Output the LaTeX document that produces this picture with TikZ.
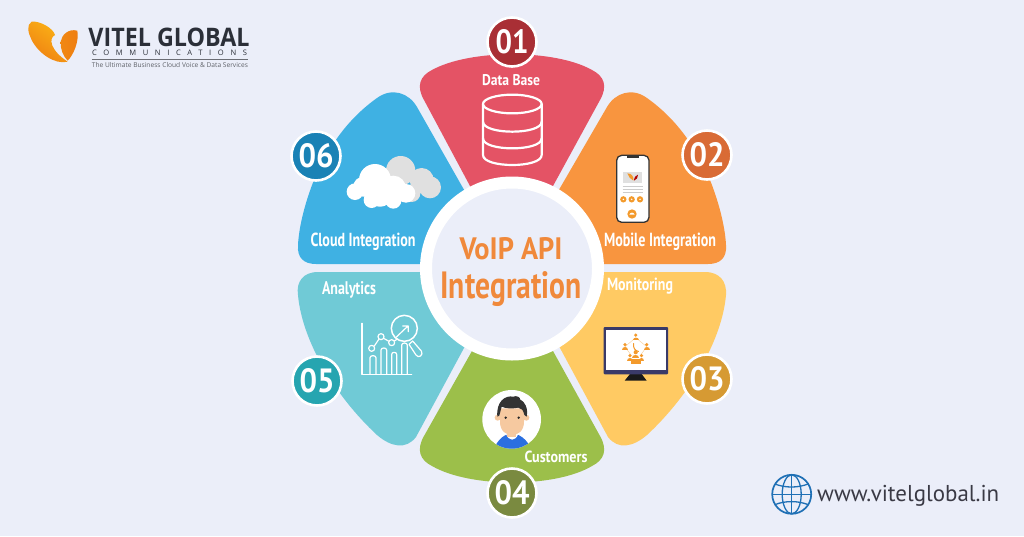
\documentclass[tikz,border=0pt]{standalone}
\usepackage{fontspec}
\usepackage{graphicx}
\setmainfont{PT Sans}
\newfontfamily\logofont{Open Sans}
\definecolor{bgc}{HTML}{EBEEF9}
\definecolor{redp}{HTML}{E45365}
\definecolor{orap}{HTML}{F8953F}
\definecolor{yelp}{HTML}{FFCA63}
\definecolor{grep}{HTML}{9CBF4A}
\definecolor{teap}{HTML}{70CAD6}
\definecolor{blup}{HTML}{3FB1E3}
\definecolor{titlec}{HTML}{F0893B}
\definecolor{logoc}{HTML}{2B2F38}
\definecolor{globec}{HTML}{1F70B5}
\definecolor{urlc}{HTML}{3A3A45}
\definecolor{monc}{HTML}{3A3A68}
\definecolor{iconc}{HTML}{F39A2C}
\definecolor{skinc}{HTML}{F6C9A0}
\definecolor{shirtc}{HTML}{2B6FE0}
\definecolor{logoa}{HTML}{FBB416}
\definecolor{logob}{HTML}{EE7D12}
\newcommand\fitw[2]{\resizebox{#1pt}{!}{#2}}
\newcommand\fitb[3]{\resizebox{#1pt}{#2pt}{#3}}
\newcommand\pplicon[3]{\begin{scope}[shift={(#1,#2)},scale=#3]
 \fill[iconc] (0,-2.8) circle (2.1);
 \fill[iconc] (-3.4,3.2) .. controls (-3.4,-1) and (3.4,-1) .. (3.4,3.2) -- cycle;
\end{scope}}
\tikzset{
 numc/.style={circle,draw=white,line width=2.6pt,minimum size=49pt,inner sep=0pt,text=white,font=\bfseries},
 lab/.style={text=white,inner sep=0pt,font=\bfseries},
 ttl/.style={text=titlec,inner sep=0pt,font=\bfseries},
 wline/.style={draw=white,line width=1.5pt,line cap=round,line join=round}
}
\begin{document}
\begin{tikzpicture}[x=1pt,y=-1pt]
\fill[bgc] (0,0) rectangle (1024,536);
\useasboundingbox (0,0) rectangle (1024,536);
% petals
\fill[redp] (470,186) -- (424,100) .. controls (416,86) and (420,76) .. (432,70) .. controls (470,49) and (555,49) .. (592,70) .. controls (604,76) and (608,86) .. (600,100) -- (553,186) -- (512,268) -- cycle;
\fill[orap] (560,188) -- (607,107) .. controls (615,93) and (632,87) .. (647,98) .. controls (675,118) and (695,145) .. (710,180) .. controls (718,200) and (725,225) .. (726,245) .. controls (727,258) and (720,264) .. (708,264) -- (600,264) -- (512,268) -- cycle;
\fill[yelp] (603,272) -- (705,272) .. controls (720,272) and (727,282) .. (726,295) .. controls (722,340) and (690,395) .. (647,435) .. controls (633,447) and (618,450) .. (608,437) -- (560,348) -- (512,268) -- cycle;
\fill[grep] (472,351) -- (424,436) .. controls (416,450) and (420,460) .. (432,466) .. controls (470,488) and (555,488) .. (592,466) .. controls (604,460) and (608,450) .. (600,436) -- (553,351) -- (512,268) -- cycle;
\fill[teap] (420,272) -- (318,272) .. controls (303,272) and (296,282) .. (298,295) .. controls (302,340) and (334,395) .. (377,435) .. controls (391,447) and (406,450) .. (416,437) -- (464,348) -- (512,268) -- cycle;
\fill[blup] (463,188) -- (417,107) .. controls (409,93) and (392,87) .. (377,98) .. controls (349,118) and (329,145) .. (314,180) .. controls (306,200) and (299,225) .. (298,245) .. controls (297,258) and (304,264) .. (316,264) -- (424,264) -- (512,268) -- cycle;
% centre
\node[circle,fill=bgc,draw=white,line width=12pt,minimum size=172pt,inner sep=0pt] (hub) at (512,268.5) {};
\node[ttl] (t1) at (511,249) {\fitb{103}{22}{VoIP API}};
\node[ttl] (t2) at (511,289) {\fitb{141}{27}{Integration}};
% number circles
\node[numc,fill={rgb,255:red,169;green,47;blue,53}] (n1) at (512,42) {\fitb{33}{24}{01}};
\node[numc,fill={rgb,255:red,217;green,107;blue,53}] (n2) at (707,155) {\fitb{35}{24}{02}};
\node[numc,fill={rgb,255:red,214;green,154;blue,51}] (n3) at (707,379) {\fitb{35}{24}{03}};
\node[numc,fill={rgb,255:red,122;green,138;blue,64}] (n4) at (512,493) {\fitb{35}{24}{04}};
\node[numc,fill={rgb,255:red,38;green,165;blue,176}] (n5) at (317,381) {\fitb{35}{24}{05}};
\node[numc,fill={rgb,255:red,26;green,130;blue,181}] (n6) at (316,156) {\fitb{35}{24}{06}};
% labels
\node[lab] (l1) at (511,80.5) {\fitb{58}{11}{Data Base}};
\node[lab] (l2) at (660,242) {\fitb{112}{13.5}{Mobile Integration}};
\node[lab] (l3) at (640,286.5) {\fitb{66}{12.5}{Monitoring}};
\node[lab] (l4) at (556,457) {\fitb{63}{11.5}{Customers}};
\node[lab] (l5) at (349,289.5) {\fitb{54}{13}{Analytics}};
\node[lab] (l6) at (363,242) {\fitb{105}{13.5}{Cloud Integration}};
% database
\begin{scope}[shift={(400,0)},scale=1/3]
 \draw[wline,line width=2.2pt] (337,312) ellipse (88 and 28);
 \draw[wline,line width=2.2pt] (249,312) -- (249,465) .. controls (249,505) and (425,505) .. (425,465) -- (425,312);
 \draw[wline,line width=2.2pt] (249,365) .. controls (249,405) and (425,405) .. (425,365);
 \draw[wline,line width=2.2pt] (249,415) .. controls (249,455) and (425,455) .. (425,415);
% phone
 \filldraw[draw=black!80,fill=white,line width=1.3pt,rounded corners=5pt] (650,466) rectangle (747,667);
 \fill[black!80] (682,466) rectangle (716,475);
 \fill[black!12] (670,515) rectangle (725,548);
 \fill[iconc] (682,520) .. controls (695,520) and (702,530) .. (700,542) .. controls (692,538) and (685,530) .. (682,520) -- cycle;
 \fill[red!70!black] (702,542) .. controls (702,532) and (708,526) .. (714,524) .. controls (714,532) and (710,540) .. (702,542) -- cycle;
 \foreach \yy in {560,568,576} \draw[black!20,line width=.5pt] (668,\yy) -- (728,\yy);
 \foreach \xx in {670,695,720} {\fill[iconc] (\xx,598) circle (9.5); \fill[white] (\xx,598) circle (2.5);}
 \fill[iconc] (696,642) circle (14);
 \fill[white] (688,644) .. controls (690,636) and (702,636) .. (704,644) -- cycle;
\end{scope}
% cloud
\begin{scope}[shift={(280,80)},scale=1/3]
 \fill[black!12] (362,272) circle (44) (425,300) circle (36) (450,322) circle (33) (335,300) circle (35) (395,340) circle (26);
 \fill[white] (285,300) circle (48) (225,335) circle (25) (340,325) circle (38) (378,340) circle (28) (275,360) circle (24) (340,362) circle (24) (250,320) circle (30) (300,340) circle (40);
\end{scope}
% analytics icon
\begin{scope}[shift={(280,265)},scale=1/3]
 \draw[wline,line width=1.2pt] (246,175) -- (246,328) -- (395,328);
 \foreach \xa/\xb/\yt in {270/288/278,303/320/255,335/350/268,365/382/240}
  \draw[wline,line width=1.2pt] (\xa,328) -- (\xa,\yt) .. controls (\xa,\yt-8) and (\xb,\yt-8) .. (\xb,\yt) -- (\xb,328);
 \draw[wline,line width=1.2pt] (283,243) -- (297,222) (311,220) -- (327,229) (343,228) -- (352,222);
 \draw[wline,line width=1.2pt,fill=teap] (275,250) circle (9) (303,215) circle (9) (335,233) circle (9);
 \draw[wline,line width=1.5pt] (373,190) circle (39);
 \draw[wline,line width=1.2pt] (347,218) -- (384,183) (368,183) -- (385,183) -- (385,200);
 \draw[wline,line width=1.2pt] (398,228) -- (387,238) -- (408,270) .. controls (415,282) and (432,270) .. (424,258) -- cycle;
% person
 \fill[white] (695,463) circle (88);
 \begin{scope}
  \clip (695,463) circle (88);
  \fill[shirtc] (640,560) .. controls (650,520) and (680,505) .. (695,505) .. controls (712,505) and (745,520) .. (755,560) -- cycle;
  \fill[white] (678,506) .. controls (686,530) and (707,530) .. (715,506) -- cycle;
 \end{scope}
 \fill[skinc] (682,480) rectangle (708,517);
 \fill[skinc] (653,458) circle (9) (739,458) circle (9);
 \fill[skinc] (660,430) -- (732,430) -- (732,470) .. controls (732,500) and (712,510) .. (696,510) .. controls (680,510) and (660,500) .. (660,470) -- cycle;
 \fill[black!80] (652,455) .. controls (648,410) and (675,390) .. (700,395) .. controls (710,390) and (722,398) .. (720,403) .. controls (735,410) and (745,430) .. (740,455) -- (733,450) .. controls (730,435) and (725,430) .. (715,428) .. controls (695,432) and (675,430) .. (665,425) .. controls (662,435) and (660,445) .. (658,452) -- cycle;
 \fill[black!85] (677,458) circle (4) (716,458) circle (4);
\end{scope}
% monitor icon
\begin{scope}[shift={(550,265)},scale=1/3]
 \fill[black!90] (240,327) -- (275,327) -- (290,347) -- (224,347) -- cycle;
 \fill[monc,rounded corners=1pt] (161,186) rectangle (354,328);
 \fill[white] (167,194) rectangle (349,315);
 \draw[iconc!50,line width=.4pt] (257,218) -- (225,245) -- (243,270) (272,270) -- (290,245) -- (257,218);
\end{scope}
\pplicon{635.7}{337.5}{.85}
\pplicon{625}{347}{.85}
\pplicon{646.7}{347}{.85}
\pplicon{635.7}{355}{1}
\pplicon{630}{358}{.85}
\pplicon{641.5}{358}{.85}
\fill[iconc] (630.5,359) rectangle (641,364);
\draw[iconc,line width=1pt,line cap=round] (633.5,343.5) .. controls (633,348) and (635,350.5) .. (638.5,351.5);
% logo
\begin{scope}[scale=1/3]
 \shade[left color=logoa,right color=logob,shading angle=-35] (95,65) .. controls (120,62) and (160,85) .. (165,105) .. controls (145,115) and (150,150) .. (203,185) .. controls (165,195) and (115,160) .. (95,120) .. controls (85,100) and (78,75) .. (95,65) -- cycle;
 \shade[left color=logob!80!logoa,right color=logob] (232,92) .. controls (205,85) and (185,105) .. (182,125) .. controls (180,145) and (190,170) .. (203,182) .. controls (220,165) and (238,125) .. (232,92) -- cycle;
\end{scope}
\node[text=logoc,inner sep=0pt,font=\logofont\bfseries] (lg1) at (169,37.5) {\fitb{161}{18.5}{VITEL GLOBAL}};
\node[text=logoc,inner sep=0pt,font=\logofont] (lg2) at (169.5,52.5) {\fitw{155}{\addfontfeature{LetterSpace=88}COMMUNICATIONS}};
\node[text=logoc!75,inner sep=0pt,font=\logofont] (lg3) at (170,65.5) {\fitw{156}{The Ultimate Business Cloud Voice \& Data Services}};
\draw[logoc!70,line width=.6pt] (lg3.north west |- 0,59.5) -- (lg3.north east |- 0,59.5);
% web
\begin{scope}
 \draw[globec,line width=1.7pt] (791.7,494.3) circle (19.5);
 \draw[globec,line width=1.3pt] (791.7,494.3) ellipse (9.5 and 19.5);
 \draw[globec,line width=1.3pt] (791.7,474.8) -- (791.7,513.8) (772.2,494.3) -- (811.2,494.3);
 \draw[globec,line width=1.3pt] (775,484) .. controls (785,488) and (798,488) .. (808,484);
 \draw[globec,line width=1.3pt] (775,504.6) .. controls (785,500.6) and (798,500.6) .. (808,504.6);
\end{scope}
\node[text=urlc,inner sep=0pt,anchor=base west] (url) at (817,501) {\fitw{182}{www.vitelglobal.in}};
\end{tikzpicture}
\end{document}
